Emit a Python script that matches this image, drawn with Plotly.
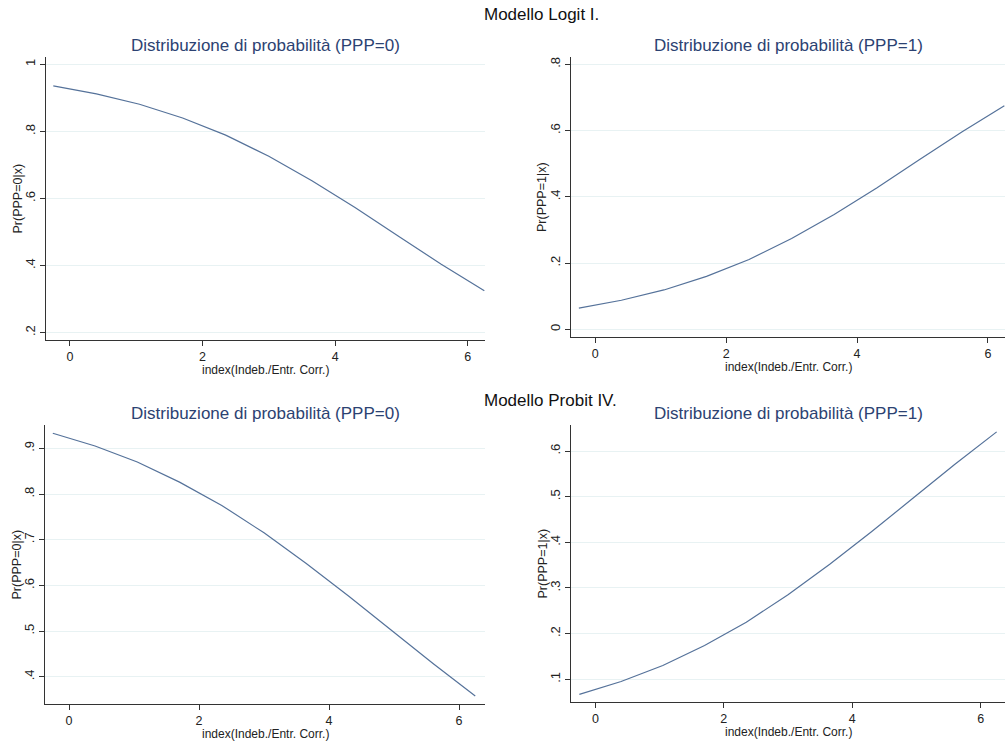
import plotly.graph_objects as go

# ---- data ----
index_x = [-0.25, 0.4, 1.05, 1.7, 2.35, 3.0, 3.65, 4.3, 4.95, 5.6, 6.25]
logit_p0 = [0.936, 0.912, 0.881, 0.840, 0.789, 0.726, 0.653, 0.573, 0.488, 0.404, 0.325]
logit_p1 = [0.064, 0.088, 0.119, 0.160, 0.211, 0.274, 0.347, 0.427, 0.512, 0.596, 0.675]
probit_p0 = [0.933, 0.905, 0.870, 0.826, 0.775, 0.715, 0.648, 0.577, 0.503, 0.429, 0.358]
probit_p1 = [0.067, 0.095, 0.130, 0.174, 0.225, 0.285, 0.352, 0.423, 0.497, 0.571, 0.642]

x_tickvals = [0, 2, 4, 6]
x_ticktext = ["0", "2", "4", "6"]
y1_tickvals = [0.2, 0.4, 0.6, 0.8, 1.0]
y1_ticktext = [".2", ".4", ".6", ".8", "1"]
y2_tickvals = [0, 0.2, 0.4, 0.6, 0.8]
y2_ticktext = ["0", ".2", ".4", ".6", ".8"]
y3_tickvals = [0.4, 0.5, 0.6, 0.7, 0.8, 0.9]
y3_ticktext = [".4", ".5", ".6", ".7", ".8", ".9"]
y4_tickvals = [0.1, 0.2, 0.3, 0.4, 0.5, 0.6]
y4_ticktext = [".1", ".2", ".3", ".4", ".5", ".6"]

main_titles = ["Modello Logit I.", "Modello Probit IV."]
sub_titles = ["Distribuzione di probabilità (PPP=0)", "Distribuzione di probabilità (PPP=1)",
              "Distribuzione di probabilità (PPP=0)", "Distribuzione di probabilità (PPP=1)"]
y_titles = ["Pr(PPP=0|x)", "Pr(PPP=1|x)", "Pr(PPP=0|x)", "Pr(PPP=1|x)"]
x_title = "index(Indeb./Entr. Corr.)"

W, H = 1006, 745
FONT = "Liberation Sans, Arial, Helvetica, sans-serif"
LINE_C = "#55729a"
TITLE_C = "#2c4272"
AX_C = "#333333"
GRID_C = "#e8f2f3"

# panel pixel boxes: (left, right, top, bottom)
boxes = [(46, 485, 57, 340), (571, 1005, 57, 337), (45, 485, 425, 704), (571, 1005, 425, 702)]
yranges = [[0.178, 1.022], [-0.023, 0.822], [0.3405, 0.951], [0.0502, 0.657]]
xranges = [[-0.36, 6.26], [-0.37, 6.26], [-0.37, 6.40], [-0.38, 6.38]]
series = [logit_p0, logit_p1, probit_p0, probit_p1]
ytv = [(y1_tickvals, y1_ticktext), (y2_tickvals, y2_ticktext),
       (y3_tickvals, y3_ticktext), (y4_tickvals, y4_ticktext)]

fig = go.Figure()
annotations = []
for i in range(4):
    l, r, t, b = boxes[i]
    xd = [l / W, r / W]
    yd = [1 - b / H, 1 - t / H]
    n = "" if i == 0 else str(i + 1)
    fig.add_trace(go.Scatter(x=index_x, y=series[i], mode="lines",
                             line=dict(color=LINE_C, width=1.2),
                             xaxis="x" + n, yaxis="y" + n, showlegend=False,
                             cliponaxis=False))
    fig.update_layout(**{
        "xaxis" + n: dict(domain=xd, range=xranges[i], anchor="y" + n,
                          tickvals=x_tickvals, ticktext=x_ticktext,
                          showgrid=False, zeroline=False, showline=True,
                          linecolor=AX_C, linewidth=1.3, ticks="outside",
                          ticklen=5, tickcolor=AX_C,
                          tickfont=dict(size=12.5, color="#222", family=FONT)),
        "yaxis" + n: dict(domain=yd, range=yranges[i], anchor="x" + n,
                          tickvals=ytv[i][0], ticktext=ytv[i][1], tickangle=-90,
                          showgrid=True, gridcolor=GRID_C, gridwidth=1,
                          zeroline=False, showline=True, linecolor=AX_C,
                          linewidth=1.3, ticks="outside", ticklen=5, tickcolor=AX_C,
                          tickfont=dict(size=13, color="#222", family=FONT)),
    })
    # subplot title
    annotations.append(dict(text=sub_titles[i], x=(xd[0] + xd[1]) / 2,
                            y=1 - (t - 12) / H, xref="paper", yref="paper",
                            showarrow=False, xanchor="center", yanchor="middle",
                            font=dict(size=17, color=TITLE_C, family=FONT)))
    # y axis title
    annotations.append(dict(text=y_titles[i], x=(l - 29) / W, y=1 - ((t + b) / 2) / H,
                            xref="paper", yref="paper", showarrow=False, textangle=-90,
                            xanchor="center", yanchor="middle",
                            font=dict(size=12.5, color="#222", family=FONT)))
    # x axis title
    annotations.append(dict(text=x_title, x=(xd[0] + xd[1]) / 2, y=1 - (b + 30) / H,
                            xref="paper", yref="paper", showarrow=False,
                            xanchor="center", yanchor="middle",
                            font=dict(size=12, color="#222", family=FONT)))

annotations.append(dict(text=main_titles[0], x=482 / W, y=1 - 15 / H, xref="paper",
                        yref="paper", showarrow=False, xanchor="left", yanchor="middle",
                        font=dict(size=17, color="#111", family=FONT)))
annotations.append(dict(text=main_titles[1], x=482 / W, y=1 - 400 / H, xref="paper",
                        yref="paper", showarrow=False, xanchor="left", yanchor="middle",
                        font=dict(size=17, color="#111", family=FONT)))

fig.update_layout(width=W, height=H, margin=dict(l=0, r=0, t=0, b=0),
                  paper_bgcolor="white", plot_bgcolor="white",
                  annotations=annotations, font=dict(family=FONT))
fig.write_html(
    "out.html",
    config={"displayModeBar": False},
    post_script="document.body.style.margin='0';"
                "document.documentElement.style.overflow='hidden';"
                "document.body.style.overflow='hidden';",
)
